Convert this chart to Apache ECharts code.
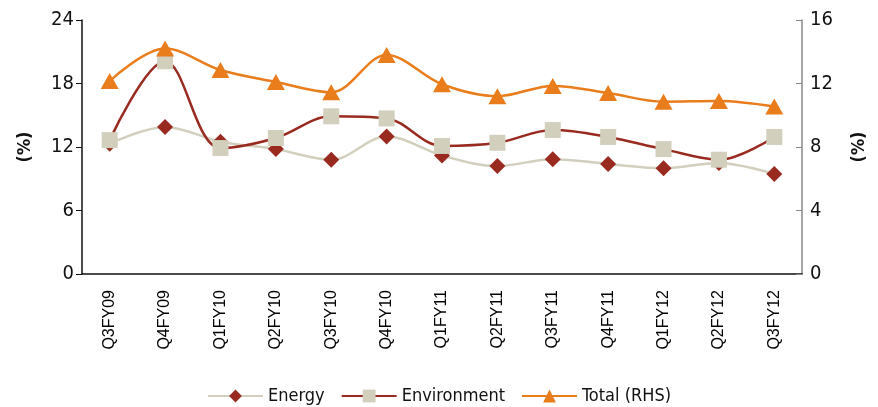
<!DOCTYPE html>
<html>
<head>
<meta charset="utf-8">
<script src="https://cdn.jsdelivr.net/npm/echarts@6/dist/echarts.min.js"></script>
<style>
  html, body { margin: 0; padding: 0; background: #fff; }
  #chart { width: 878px; height: 407px; }
</style>
</head>
<body>
<div id="chart"></div>
<script>
// Quarterly growth, %
const quarters = ['Q3FY09','Q4FY09','Q1FY10','Q2FY10','Q3FY10','Q4FY10','Q1FY11','Q2FY11','Q3FY11','Q4FY11','Q1FY12','Q2FY12','Q3FY12'];
const energy = [12.3, 13.9, 12.5, 11.8, 10.8, 13.0, 11.2, 10.2, 10.85, 10.4, 10.0, 10.5, 9.45];
const environment = [12.65, 20.1, 11.9, 12.85, 14.9, 14.7, 12.1, 12.4, 13.6, 12.95, 11.8, 10.8, 12.95];
const totalRhs = [12.15, 14.2, 12.85, 12.1, 11.45, 13.8, 11.95, 11.2, 11.85, 11.4, 10.85, 10.9, 10.55];
const leftTicks = { min: 0, max: 24, interval: 6 };
const rightTicks = { min: 0, max: 16, interval: 4 };

const condensed = '"Liberation Sans Narrow", "DejaVu Sans Condensed", sans-serif';
const darkRed = '#992a20';
const beige = '#d2cfbd';
const orange = '#e97c1b';

const chart = echarts.init(document.getElementById('chart'));
chart.setOption({
  animation: false,
  grid: { left: 82, right: 76, top: 20, bottom: 133 },
  legend: {
    top: 382,
    left: 'center',
    itemWidth: 55,
    itemHeight: 16,
    itemGap: 16,
    textStyle: { fontFamily: condensed, fontSize: 18, color: '#111' },
    data: ['Energy', 'Environment', 'Total (RHS)']
  },
  xAxis: {
    type: 'category',
    data: quarters,
    boundaryGap: true,
    axisLine: { lineStyle: { color: '#111', width: 1.5 } },
    axisTick: { length: 6, lineStyle: { color: '#111' } },
    axisLabel: { rotate: 90, fontFamily: '"Liberation Sans", Arial, sans-serif', fontSize: 16, color: '#000', margin: 16 }
  },
  yAxis: [
    {
      type: 'value',
      min: leftTicks.min, max: leftTicks.max, interval: leftTicks.interval,
      name: '(%)', nameLocation: 'middle', nameGap: 48, nameRotate: 90,
      nameTextStyle: { fontFamily: condensed, fontSize: 18, fontWeight: 'bold', color: '#111' },
      axisLine: { show: true, lineStyle: { color: '#111', width: 1.5 } },
      axisTick: { show: true, length: 6, lineStyle: { color: '#111' } },
      axisLabel: { fontFamily: condensed, fontSize: 20, color: '#111', margin: 8 },
      splitLine: { show: false }
    },
    {
      type: 'value',
      position: 'right',
      min: rightTicks.min, max: rightTicks.max, interval: rightTicks.interval,
      name: '(%)', nameLocation: 'middle', nameGap: 48, nameRotate: 90,
      nameTextStyle: { fontFamily: condensed, fontSize: 18, fontWeight: 'bold', color: '#111' },
      axisLine: { show: true, lineStyle: { color: '#888', width: 1.5 } },
      axisTick: { show: true, inside: true, length: 6, lineStyle: { color: '#888' } },
      axisLabel: { fontFamily: condensed, fontSize: 20, color: '#111', margin: 8 },
      splitLine: { show: false }
    }
  ],
  series: [
    {
      name: 'Energy', type: 'line', yAxisIndex: 0, data: energy,
      smooth: 0.35, symbol: 'diamond', symbolSize: 16,
      lineStyle: { color: beige, width: 2.5 },
      itemStyle: { color: darkRed }
    },
    {
      name: 'Environment', type: 'line', yAxisIndex: 0, data: environment,
      smooth: 0.35, symbol: 'rect', symbolSize: 16,
      lineStyle: { color: darkRed, width: 2.5 },
      itemStyle: { color: beige }
    },
    {
      name: 'Total (RHS)', type: 'line', yAxisIndex: 1, data: totalRhs,
      smooth: 0.35, symbol: 'triangle', symbolSize: [18, 16],
      lineStyle: { color: orange, width: 2.5 },
      itemStyle: { color: orange }
    }
  ]
});
</script>
</body>
</html>
